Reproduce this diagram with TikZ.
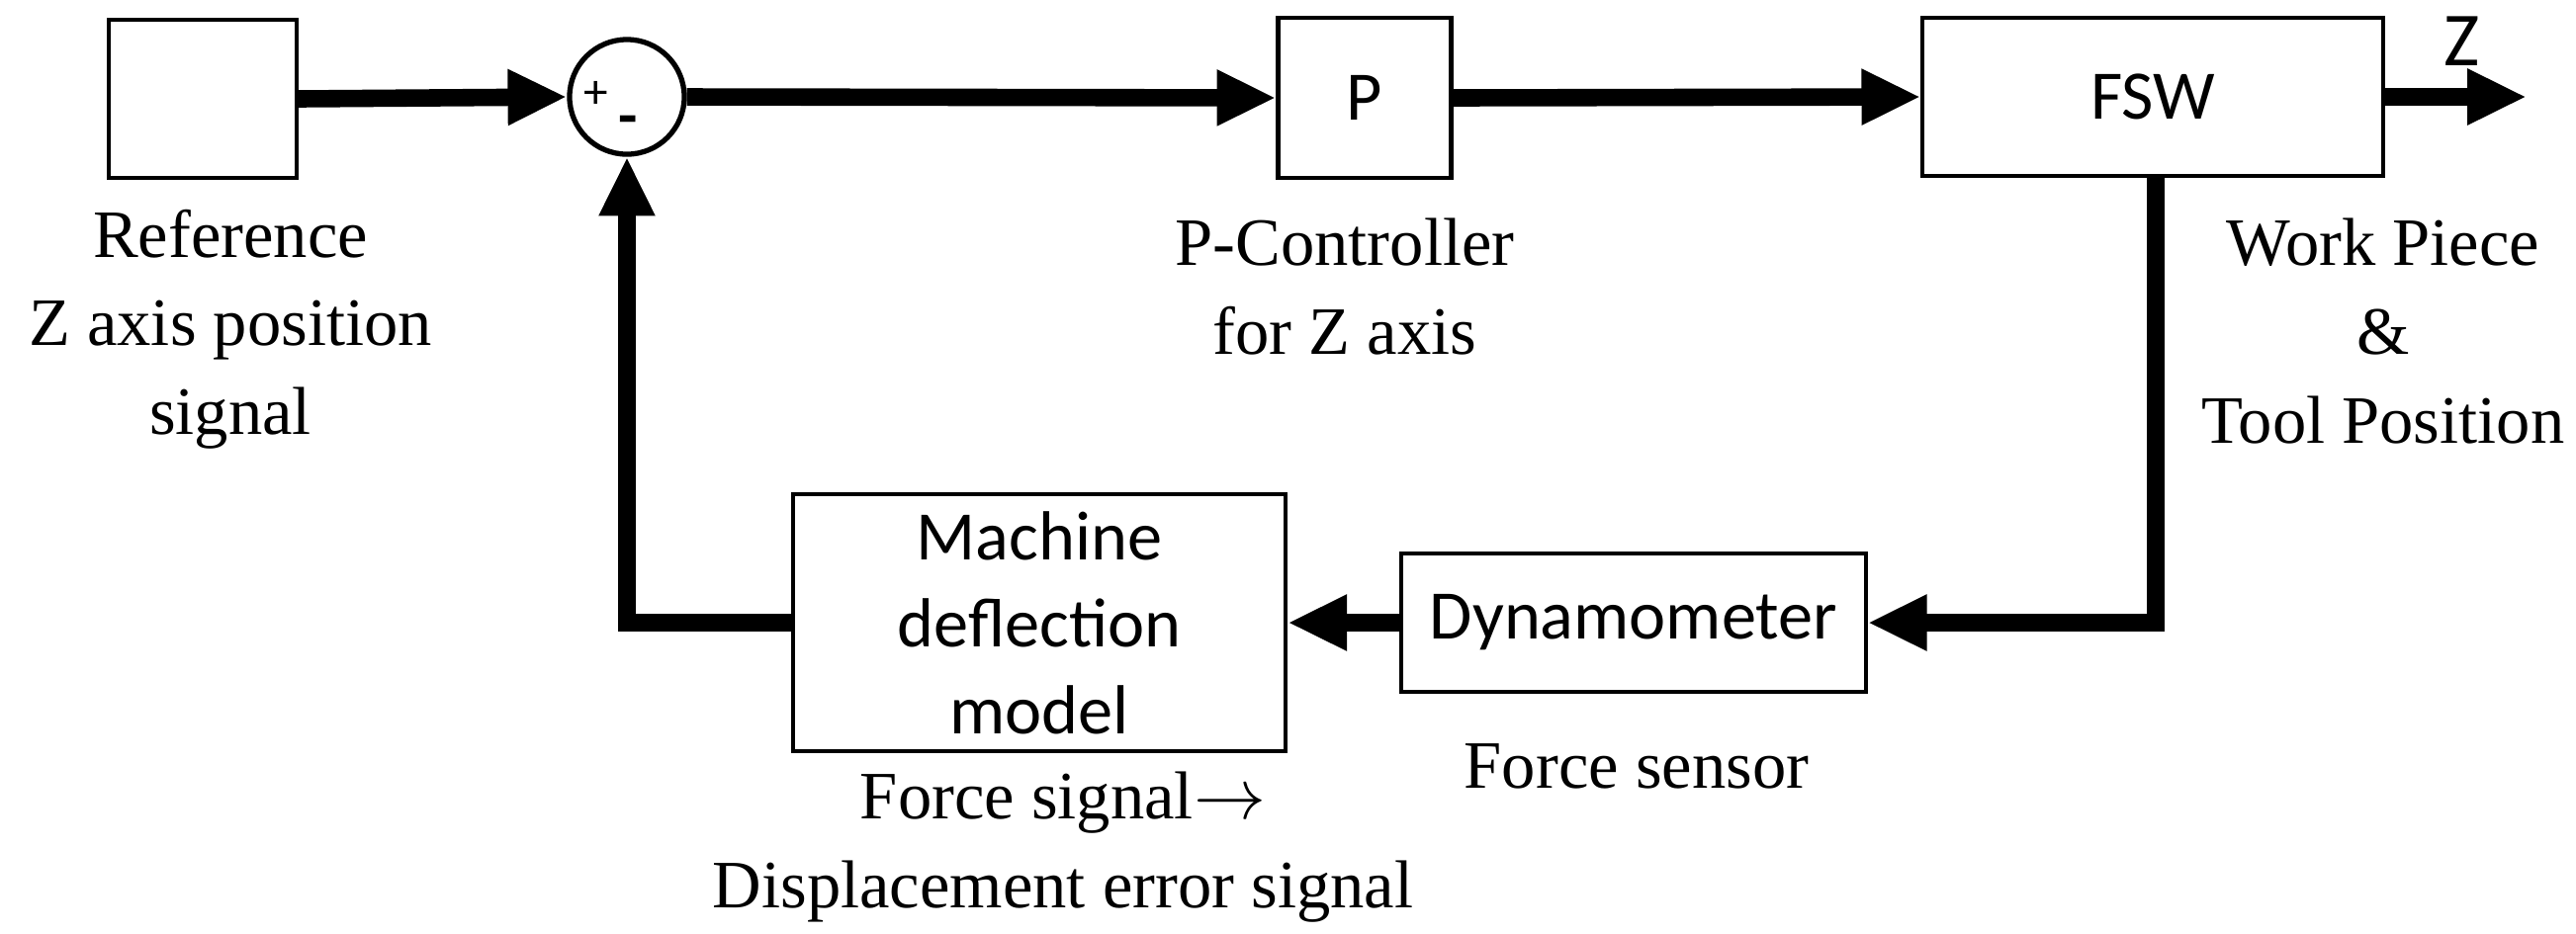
\documentclass[tikz,border=0pt]{standalone}
\usepackage{fontspec}
\setmainfont{Liberation Serif}
\newfontfamily\sansf{Carlito}
\usetikzlibrary{arrows.meta}
\begin{document}
\begin{tikzpicture}[x=0.01cm,y=-0.01cm,
  blk/.style={draw,line width=1.2pt,inner sep=0pt,font=\sansf\fontsize{20}{25}\selectfont,align=center},
  lbl/.style={font=\fontsize{19.5}{25.5}\selectfont,align=center},
  sig/.style={line width=5pt,-{Triangle[length=17pt,width=15pt]}}]
\useasboundingbox (0,0) rectangle (2605,944);
\node[blk,minimum width=1.9cm,minimum height=1.6cm] (ref) at (205,100) {};
\node[draw,circle,line width=1.5pt,inner sep=0pt,minimum size=1.16cm] (sum) at (634,98) {};
\node[font=\sansf\fontsize{14}{14}\selectfont] at (603,96) {+};
\node[font=\sansf\bfseries\fontsize{18}{18}\selectfont] at (635,128) {-};
\node[blk,minimum width=1.75cm,minimum height=1.62cm] (P) at (1380,99) {P};
\node[blk,minimum width=4.65cm,minimum height=1.6cm] (F) at (2177,98) {FSW};
\coordinate (zend) at (2555,98);
\node[blk,minimum width=4.98cm,minimum height=2.6cm] (M) at (1051,630) {Machine\\deflection\\model};
\node[blk,minimum width=4.69cm,minimum height=1.4cm] (D) at (1652,630) {Dynamometer};
\draw[sig] (ref.east) -- (sum.west);
\draw[sig] (sum.east) -- (P.west);
\draw[sig] (P.east) -- (F.west);
\draw[sig] (F.east) -- (zend);
\node[font=\sansf\fontsize{22}{22}\selectfont] at (2490,42) {Z};
\draw[sig] (2180,178) -- (2180,630) -- (D.east);
\draw[sig] (D.west) -- (M.east);
\draw[sig] (M.west) -- (634,630) -- (sum.south);
\node[lbl] at (233,333) {Reference\\Z axis position\\signal};
\node[lbl] at (1360,290) {P-Controller\\for Z axis};
\node[lbl] at (2410,335) {Work Piece\\\&\\Tool Position};
\node[lbl] at (1655,775) {Force sensor};
\node[lbl] at (1075,857) {Force signal$\rightarrow$\\Displacement error signal};
\end{tikzpicture}
\end{document}
